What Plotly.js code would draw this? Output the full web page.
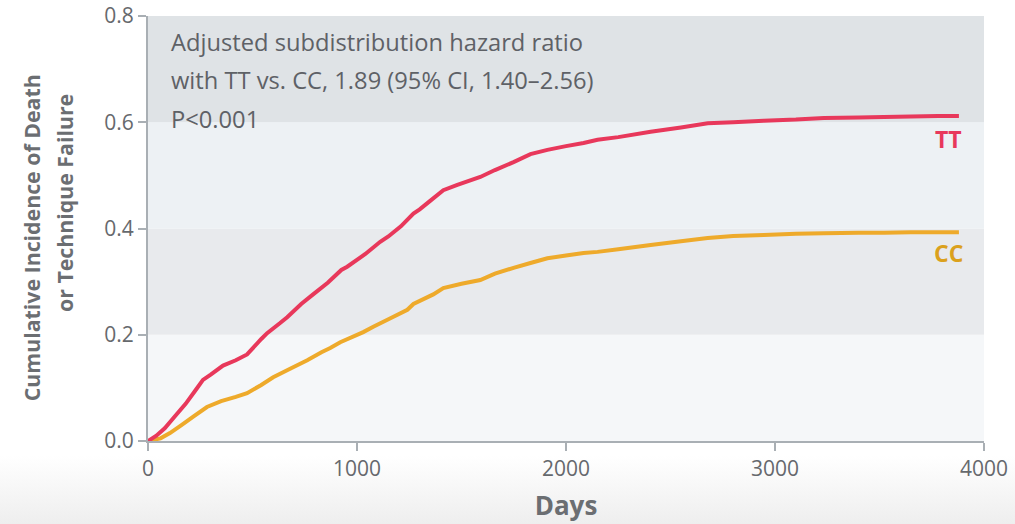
<!DOCTYPE html>
<html>
<head>
<meta charset="utf-8">
<script src="https://cdn.plot.ly/plotly-3.0.1.min.js"></script>
<style>
  html, body { margin: 0; padding: 0; }
  body {
    width: 1015px; height: 524px; overflow: hidden;
    background: linear-gradient(to bottom, #ffffff 0%, #ffffff 87%, #eeeeee 100%);
  }
  #chart { width: 1015px; height: 524px; }
</style>
</head>
<body>
<div id="chart"></div>
<script>
// Cumulative incidence of death or technique failure, by genotype
const ttDays = [0, 40, 80, 130, 180, 230, 263, 300, 359, 420, 474, 542, 570, 632, 666, 733, 790, 860, 925, 953,
  1040, 1111, 1150, 1210, 1270, 1300, 1350, 1413, 1480, 1590, 1660, 1749, 1830, 1911, 2000, 2084, 2151, 2250,
  2405, 2550, 2678, 2800, 2946, 3100, 3234, 3400, 3521, 3650, 3780, 3880];
const ttIncidence = [0, 0.01, 0.024, 0.047, 0.07, 0.097, 0.115, 0.125, 0.142, 0.152, 0.163, 0.192, 0.203, 0.222,
  0.233, 0.258, 0.276, 0.298, 0.322, 0.328, 0.352, 0.375, 0.385, 0.404, 0.428, 0.436, 0.452, 0.472, 0.482, 0.497,
  0.51, 0.525, 0.54, 0.548, 0.555, 0.561, 0.567, 0.572, 0.582, 0.59, 0.598, 0.6, 0.603, 0.605, 0.608, 0.609,
  0.61, 0.611, 0.612, 0.612];

const ccDays = [0, 60, 105, 160, 220, 282, 350, 420, 474, 540, 599, 680, 762, 830, 872, 920, 1030, 1078, 1160,
  1241, 1270, 1365, 1413, 1500, 1590, 1660, 1749, 1830, 1911, 2000, 2084, 2151, 2250, 2405, 2550, 2678, 2800,
  2946, 3100, 3234, 3400, 3521, 3650, 3780, 3880];
const ccIncidence = [0, 0.005, 0.015, 0.03, 0.047, 0.064, 0.075, 0.083, 0.09, 0.105, 0.12, 0.136, 0.152, 0.167,
  0.175, 0.186, 0.205, 0.215, 0.231, 0.247, 0.258, 0.276, 0.288, 0.296, 0.303, 0.315, 0.326, 0.335, 0.344,
  0.349, 0.354, 0.356, 0.361, 0.369, 0.376, 0.382, 0.386, 0.388, 0.39, 0.391, 0.392, 0.392, 0.393, 0.393, 0.393];

const xTicks = [0, 1000, 2000, 3000, 4000];
const yTicks = [0, 0.2, 0.4, 0.6, 0.8];

const statLines = [
  'Adjusted subdistribution hazard ratio',
  'with TT vs. CC, 1.89 (95% CI, 1.40\u20132.56)',
  'P<0.001'
];
const yTitleLines = ['Cumulative Incidence of Death', 'or Technique Failure'];

const TT_COLOR = '#e8385b';
const CC_COLOR = '#eeaa2b';
const FONT = 'Open Sans, Lato, sans-serif';
const TITLE_COLOR = '#6b6e72';

const traces = [
  { x: ccDays, y: ccIncidence, name: 'CC', mode: 'lines',
    line: { color: CC_COLOR, width: 4, simplify: false }, hoverinfo: 'skip' },
  { x: ttDays, y: ttIncidence, name: 'TT', mode: 'lines',
    line: { color: TT_COLOR, width: 4, simplify: false }, hoverinfo: 'skip' }
];

// alternating horizontal bands behind the curves
const bandColors = ['#f5f7f9', '#e8eaed', '#edf1f4', '#dfe3e6'];
const shapes = bandColors.map((c, i) => ({
  type: 'rect', xref: 'paper', yref: 'y', x0: 0, x1: 1,
  y0: yTicks[i], y1: yTicks[i + 1], fillcolor: c, line: { width: 0 }, layer: 'below'
}));

// statistics box text, one annotation per line
const annotations = statLines.map((t, i) => ({
  xref: 'paper', yref: 'paper', x: 0.025, y: 0.939 - i * 0.0905,
  xanchor: 'left', yanchor: 'middle', showarrow: false, text: t,
  font: { family: FONT, size: 23.7, color: '#5e6166' }
}));

// two-line y-axis title, each line rotated
const yTitleX = [-0.139, -0.1];
const yTitleY = [0.479, 0.561];
yTitleLines.forEach((t, i) => annotations.push({
  xref: 'paper', yref: 'paper', x: yTitleX[i], y: yTitleY[i],
  xanchor: 'center', yanchor: 'middle', textangle: -90, showarrow: false,
  text: '<b>' + t + '</b>', font: { family: FONT, size: 21.3, color: TITLE_COLOR }
}));

annotations.push(
  { x: 3830, y: 0.568, xref: 'x', yref: 'y', text: '<b>TT</b>', showarrow: false,
    font: { family: FONT, size: 23, color: TT_COLOR } },
  { x: 3830, y: 0.354, xref: 'x', yref: 'y', text: '<b>CC</b>', showarrow: false,
    font: { family: FONT, size: 23, color: '#dba11d' } }
);

const axisCommon = {
  showgrid: false, zeroline: false, showline: true,
  linecolor: '#a9afb4', linewidth: 2,
  ticks: 'outside', ticklen: 8, tickwidth: 2, tickcolor: '#a9afb4',
  tickfont: { family: FONT, size: 21, color: '#66696d' }
};

const layout = {
  width: 1015, height: 524,
  margin: { l: 148, r: 31, t: 16, b: 83 },
  paper_bgcolor: 'rgba(0,0,0,0)',
  plot_bgcolor: 'rgba(0,0,0,0)',
  showlegend: false,
  xaxis: Object.assign({}, axisCommon, {
    range: [0, 4000], tickvals: xTicks, ticktext: xTicks.map(String),
    title: { text: '<b>Days</b>', standoff: 16, font: { family: FONT, size: 26, color: TITLE_COLOR } }
  }),
  yaxis: Object.assign({}, axisCommon, {
    range: [0, 0.8], tickvals: yTicks, ticktext: yTicks.map(v => v.toFixed(1))
  }),
  shapes: shapes,
  annotations: annotations
};

Plotly.newPlot('chart', traces, layout, { staticPlot: true, displayModeBar: false });
</script>
</body>
</html>
